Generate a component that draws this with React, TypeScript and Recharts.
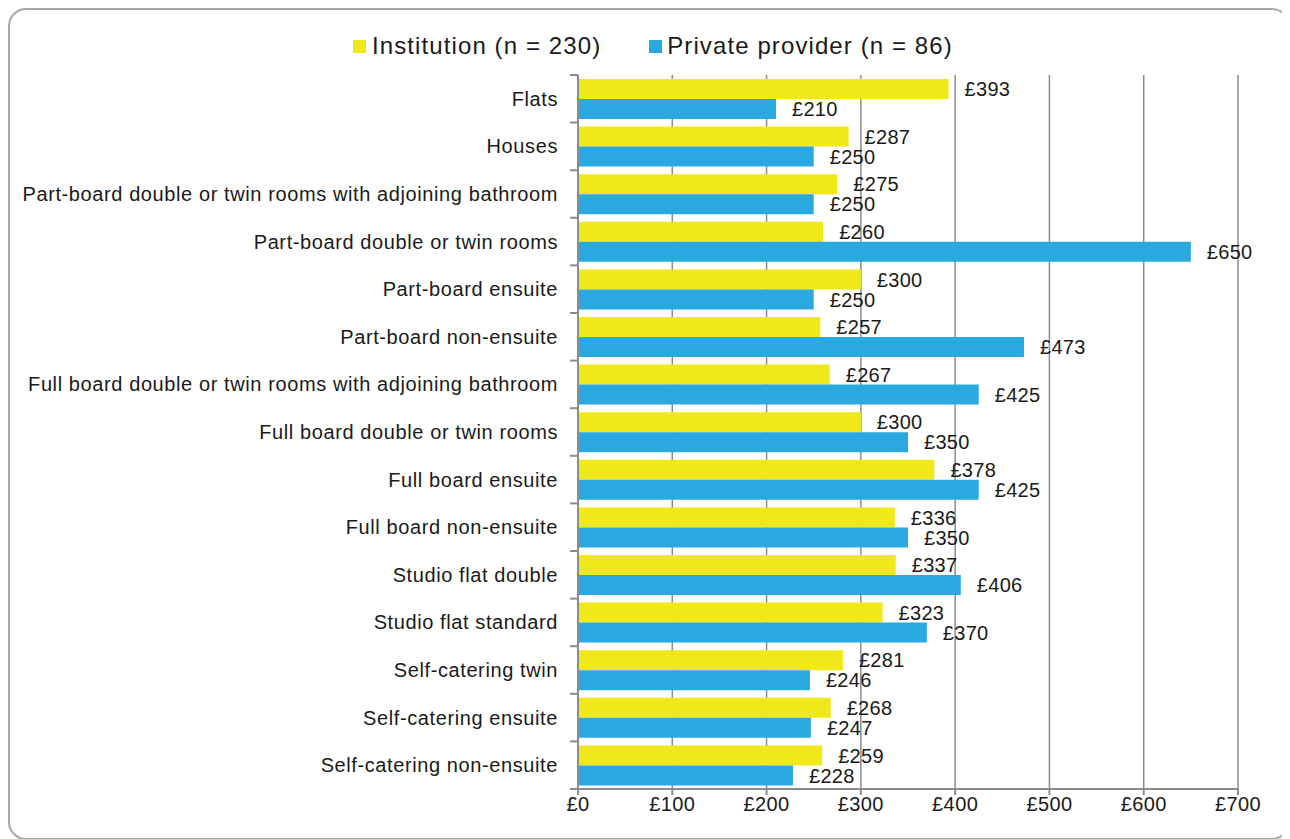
import React from 'react';
import { BarChart, Bar, XAxis, YAxis, CartesianGrid, LabelList } from 'recharts';

const categories = [
  'Flats',
  'Houses',
  'Part-board double or twin rooms with adjoining bathroom',
  'Part-board double or twin rooms',
  'Part-board ensuite',
  'Part-board non-ensuite',
  'Full board double or twin rooms with adjoining bathroom',
  'Full board double or twin rooms',
  'Full board ensuite',
  'Full board non-ensuite',
  'Studio flat double',
  'Studio flat standard',
  'Self-catering twin',
  'Self-catering ensuite',
  'Self-catering non-ensuite',
];
const institution = [393, 287, 275, 260, 300, 257, 267, 300, 378, 336, 337, 323, 281, 268, 259];
const privateProvider = [210, 250, 250, 650, 250, 473, 425, 350, 425, 350, 406, 370, 246, 247, 228];
const xTicks = [0, 100, 200, 300, 400, 500, 600, 700];
const seriesNames = ['Institution (n = 230)', 'Private provider (n = 86)'];

const data = categories.map((c, i) => ({ name: c, inst: institution[i], priv: privateProvider[i] }));

const YELLOW = '#F0E81A';
const BLUE = '#29A9E0';
const GRID = '#8c8c8c';
const TEXT = '#1a1a1a';
const FONT = '"Liberation Sans", Arial, sans-serif';

const CHART_W = 1278;
const CHART_H = 828;
const MARGIN = { top: 65, right: 50, bottom: 19, left: 0 };
const PLOT_H = CHART_H - MARGIN.top - MARGIN.bottom - 30;
const BAND = PLOT_H / categories.length;

const YTick = (props: any) => {
  const { x, y, payload, index } = props;
  const ax = x + 8;
  return (
    <g>
      <text x={x - 12} y={y} textAnchor="end" dominantBaseline="central" fontSize={20} letterSpacing={0.6} fill={TEXT} fontFamily={FONT}>
        {payload.value}
      </text>
      <line x1={ax - 8} x2={ax} y1={y - BAND / 2} y2={y - BAND / 2} stroke={GRID} strokeWidth={2} />
      {index === categories.length - 1 && (
        <line x1={ax - 8} x2={ax} y1={y + BAND / 2} y2={y + BAND / 2} stroke={GRID} strokeWidth={2} />
      )}
    </g>
  );
};

const fmt = (v: any) => `£${v}`;

const Legend = () => (
  <div
    style={{
      position: 'absolute',
      top: 22,
      left: 343,
      display: 'flex',
      alignItems: 'center',
      fontFamily: FONT,
      fontSize: 24,
      letterSpacing: 1.1,
      color: TEXT,
      whiteSpace: 'nowrap',
    }}
  >
    <span style={{ display: 'inline-block', width: 13, height: 13, background: YELLOW, marginRight: 6 }} />
    <span>{seriesNames[0]}</span>
    <span style={{ display: 'inline-block', width: 13, height: 13, background: BLUE, marginLeft: 48, marginRight: 5 }} />
    <span>{seriesNames[1]}</span>
  </div>
);

export default function App() {
  return (
    <div
      style={{
        position: 'relative',
        width: CHART_W,
        height: CHART_H,
        border: '2px solid #a8a8a8',
        borderRadius: 18,
        background: '#fff',
        overflow: 'hidden',
      }}
    >
      <Legend />
      <BarChart
        width={CHART_W}
        height={CHART_H}
        data={data}
        layout="vertical"
        margin={MARGIN}
        barCategoryGap={4}
        barGap={0}
      >
        <CartesianGrid horizontal={false} vertical={true} stroke={GRID} strokeWidth={1.5} />
        <XAxis
          type="number"
          domain={[0, 700]}
          ticks={xTicks}
          tickFormatter={fmt}
          height={30}
          axisLine={{ stroke: GRID, strokeWidth: 2 }}
          tickLine={{ stroke: GRID, strokeWidth: 2 }}
          tickSize={6}
          tick={{ fontSize: 20, fill: TEXT, fontFamily: FONT, letterSpacing: 0.4 }}
          interval={0}
        />
        <YAxis
          type="category"
          dataKey="name"
          width={568}
          axisLine={{ stroke: GRID, strokeWidth: 2 }}
          tickLine={false}
          tick={<YTick />}
          interval={0}
        />
        <Bar dataKey="inst" fill={YELLOW} isAnimationActive={false}>
          <LabelList dataKey="inst" position="right" offset={16} formatter={fmt} style={{ fontSize: 20, fill: TEXT, fontFamily: FONT, letterSpacing: 0.3 }} />
        </Bar>
        <Bar dataKey="priv" fill={BLUE} isAnimationActive={false}>
          <LabelList dataKey="priv" position="right" offset={16} formatter={fmt} style={{ fontSize: 20, fill: TEXT, fontFamily: FONT, letterSpacing: 0.3 }} />
        </Bar>
      </BarChart>
    </div>
  );
}
